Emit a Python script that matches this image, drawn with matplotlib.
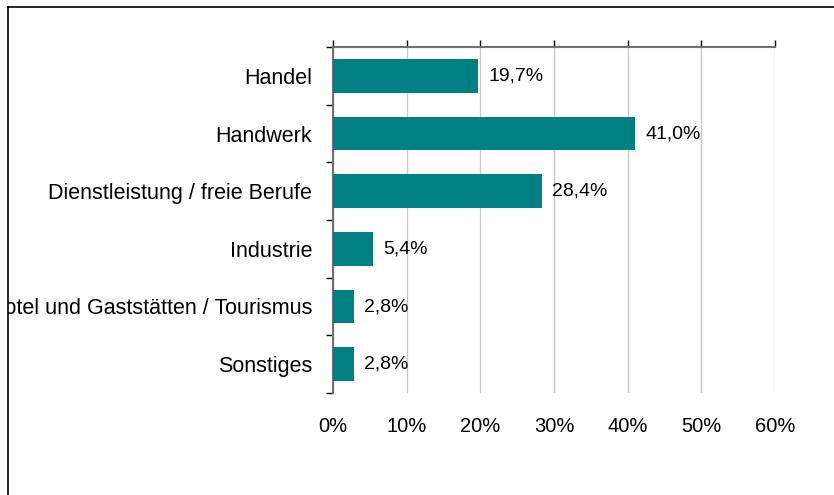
import matplotlib.pyplot as plt
from matplotlib.lines import Line2D
from matplotlib.transforms import Bbox

plt.rcParams['font.family'] = ['Liberation Sans', 'DejaVu Sans']

# Branchenverteilung (Anteil in %)
categories = [
    "Handel",
    "Handwerk",
    "Dienstleistung / freie Berufe",
    "Industrie",
    "Hotel und Gaststätten / Tourismus",
    "Sonstiges",
]
shares = [19.7, 41.0, 28.4, 5.4, 2.8, 2.8]
x_ticks = [0, 10, 20, 30, 40, 50, 60]
x_ticklabels = ["0%", "10%", "20%", "30%", "40%", "50%", "60%"]

W, H = 834, 495
fig = plt.figure(figsize=(W / 100, H / 100), dpi=100)
ax = fig.add_axes([333 / W, 1 - 393 / H, (775 - 333) / W, (393 - 47) / H])

pos = list(range(len(categories)))
ax.barh(pos, shares, height=0.58, color="#008080", zorder=3)
for p, v in zip(pos, shares):
    ax.annotate(f"{v:.1f}%".replace(".", ","), (v, p), xytext=(10, 0),
                textcoords="offset pixels", va="center", ha="left", fontsize=14)

ax.set_xlim(0, 60)
ax.set_ylim(len(categories) - 0.5, -0.5)
ax.set_xticks(x_ticks)
ax.set_xticklabels(x_ticklabels, fontsize=14.5)
ax.tick_params(axis="x", bottom=False, top=True, labelbottom=True, labeltop=False,
               direction="out", length=5, width=1, color="black", pad=12.5)
ax.grid(axis="x", color="#c8c8c8", linewidth=1, zorder=0)

ax.set_yticks(pos)
ax.set_yticklabels(categories, fontsize=15.5)
ax.set_yticks([p - 0.5 for p in pos] + [len(pos) - 0.5], minor=True)
ax.tick_params(axis="y", which="major", length=0, pad=15)
ax.tick_params(axis="y", which="minor", length=5, width=1, color="black", direction="out")

for side in ("bottom", "right"):
    ax.spines[side].set_visible(False)
for side in ("top", "left"):
    ax.spines[side].set_color("#707070")
    ax.spines[side].set_linewidth(1.5)

# outer frame (left and top only)
fx = 7.5 / W
fy = 1 - 6.5 / H
fig.add_artist(Line2D([fx, fx], [0, fy], transform=fig.transFigure, color="black", lw=1.2))
fig.add_artist(Line2D([fx, 1], [fy, fy], transform=fig.transFigure, color="black", lw=1.2))

# the long label runs past the frame and is cut off there, as in the original
clip = Bbox.from_extents(8, 0, W, H)
for lbl in ax.get_yticklabels():
    lbl.set_clip_box(clip)
    lbl.set_clip_on(True)

fig.savefig("out.png", dpi=100)
